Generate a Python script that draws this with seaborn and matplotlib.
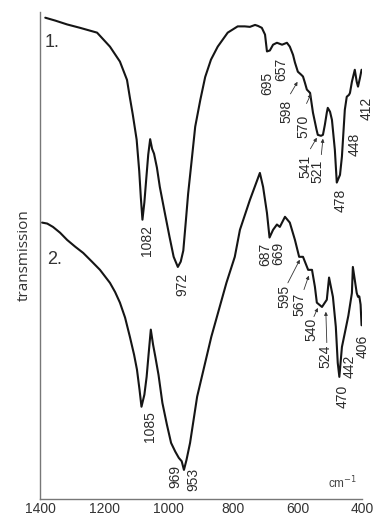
import numpy as np
import pandas as pd
import matplotlib
matplotlib.use('Agg')
import matplotlib.pyplot as plt
import seaborn as sns

# спектр 1 (волновое число, пропускание, у.е.)
wn1 = [1384, 1353, 1316, 1276, 1223, 1183, 1152, 1130, 1121, 1112, 1100, 1092, 1087, 1082,
       1076, 1070, 1064, 1058, 1052, 1046, 1037, 1028, 1013, 998, 985, 972, 963, 955, 947,
       940, 929, 918, 902, 887, 869, 848, 817, 786, 764, 748, 732, 723, 711, 701, 695, 686,
       676, 664, 648, 633, 624, 614, 608, 599, 589, 583, 577, 571, 561, 552, 546, 541, 537,
       527, 521, 515, 509, 506, 499, 493, 484, 478, 468, 462, 453, 447, 440, 437, 431, 422,
       416, 412, 406, 401]
tr1 = [99.8, 99.2, 98.4, 97.7, 96.7, 93.8, 90.7, 86.9, 83.2, 79.7, 74.5, 68.0, 62.5, 57.9,
       61.5, 66.5, 71.4, 74.6, 72.6, 71.6, 68.7, 64.7, 59.5, 54.4, 50.2, 48.1, 49.2, 51.5, 57.7,
       63.3, 70.2, 77.2, 82.8, 87.5, 91.1, 93.8, 96.7, 98.0, 98.0, 97.9, 98.3, 98.1, 97.7, 96.3,
       92.8, 93.0, 94.2, 94.6, 94.2, 94.6, 93.8, 92.1, 90.5, 88.6, 88.0, 87.6, 86.3, 84.9, 84.2,
       80.1, 78.2, 76.6, 75.5, 75.3, 75.5, 77.6, 80.1, 81.1, 80.3, 78.6, 72.4, 65.6, 67.2, 71.0,
       80.7, 83.4, 83.8, 84.2, 86.5, 89.0, 86.5, 85.5, 87.3, 89.0]

# спектр 2
wn2 = [1394, 1378, 1360, 1338, 1316, 1291, 1266, 1239, 1214, 1183, 1167, 1152, 1136, 1121,
       1108, 1099, 1091, 1085, 1076, 1069, 1063, 1056, 1049, 1042, 1032, 1020, 1006, 993, 980,
       969, 960, 953, 945, 934, 912, 868, 821, 795, 779, 748, 717, 707, 695, 687, 676, 664, 655,
       639, 624, 608, 595, 583, 567, 555, 546, 540, 524, 509, 502, 490, 481, 475, 470, 462, 453,
       442, 431, 428, 422, 416, 412, 408, 404, 401]
tr2 = [57.3, 57.1, 56.4, 55.2, 53.7, 52.3, 51.0, 49.2, 47.5, 44.8, 42.9, 40.7, 37.6, 33.6,
       29.9, 26.8, 22.6, 19.1, 21.6, 25.3, 29.9, 35.1, 32.0, 29.5, 25.7, 19.9, 15.4, 11.6, 9.8,
       8.5, 7.8, 6.0, 8.1, 11.6, 21.2, 33.6, 44.8, 50.2, 55.8, 62.0, 67.6, 64.7, 59.3, 54.2,
       55.8, 56.9, 56.4, 58.5, 57.3, 53.7, 50.2, 50.2, 47.5, 47.5, 44.0, 40.7, 39.8, 41.3, 45.9,
       41.9, 35.7, 28.2, 25.3, 31.5, 34.4, 38.0, 42.7, 48.1, 45.4, 42.7, 41.9, 42.0, 40.3, 36.0]

# подписи пиков: текст, x, верх подписи
peaks1 = ['1082', '972', '695', '657', '598', '570', '541', '521', '478', '448', '412']
peaks1_x = [1068, 959, 695, 652, 633, 583, 575, 537, 465, 422, 384]
peaks1_y = [56.8, 46.9, 88.6, 91.5, 82.8, 79.7, 71.4, 70.3, 64.3, 76.0, 83.4]

peaks2 = ['1085', '969', '953', '687', '669', '595', '567', '540', '524', '470', '442', '406']
peaks2_x = [1058, 981, 925, 701, 661, 642, 593, 558, 512, 459, 437, 397]
peaks2_y = [18.1, 7.0, 6.4, 53.1, 53.3, 44.4, 42.7, 37.6, 32.0, 23.7, 29.9, 34.0]

# стрелки от подписей к кривым
arrows = [((622, 84.0), (600, 86.5)), ((572, 82.0), (558, 84.0)),
          ((560, 72.6), (540, 74.9)), ((526, 71.4), (521, 74.7)),
          ((630, 44.8), (593, 49.6)), ((580, 43.4), (565, 46.3)),
          ((549, 37.8), (537, 39.6)), ((509, 32.4), (512, 38.8))]

df1 = pd.DataFrame({'wn': wn1, 'T': tr1})
df2 = pd.DataFrame({'wn': wn2, 'T': tr2})

sns.set_theme(style='white')
plt.rcParams['font.family'] = ['Liberation Sans', 'DejaVu Sans']

fig = plt.figure(figsize=(3.75, 5.18), dpi=100)
ax = fig.add_axes([0.107, 0.037, 0.858, 0.940])

sns.lineplot(data=df1, x='wn', y='T', color='#151515', lw=1.5, ax=ax)
sns.lineplot(data=df2, x='wn', y='T', color='#151515', lw=1.5, ax=ax)

ax.set_xlim(1400, 400)
ax.set_ylim(0, 101)
ax.set_xticks([1400, 1200, 1000, 800, 600, 400])
ax.set_yticks([])
ax.tick_params(axis='x', length=0, pad=2, labelsize=10, colors='#333333')
ax.set_xlabel('')
ax.set_ylabel('transmission', family='Open Sans', fontsize=11, color='#333333', labelpad=6)
sns.despine(ax=ax)
for s in ['left', 'bottom']:
    ax.spines[s].set_color('#777777')
    ax.spines[s].set_linewidth(1.0)

for t, x, y in zip(peaks1, peaks1_x, peaks1_y):
    ax.text(x, y, t, rotation=90, ha='center', va='top', fontsize=10,
            color='#2a2a2a', clip_on=False)
for t, x, y in zip(peaks2, peaks2_x, peaks2_y):
    ax.text(x, y, t, rotation=90, ha='center', va='top', fontsize=10,
            color='#2a2a2a', clip_on=False)
for a, b in arrows:
    ax.annotate('', xy=b, xytext=a,
                arrowprops=dict(arrowstyle='-|>', lw=0.6, color='#333333',
                                mutation_scale=5, shrinkA=0, shrinkB=0))

ax.text(1387, 96.5, '1.', fontsize=13, color='#333333', va='top')
ax.text(1378, 51.5, '2.', fontsize=13, color='#333333', va='top')
ax.text(460, 1.5, 'cm$^{-1}$', fontsize=8.5, color='#444444', va='bottom', ha='center')

plt.savefig('out.png', dpi=100)
